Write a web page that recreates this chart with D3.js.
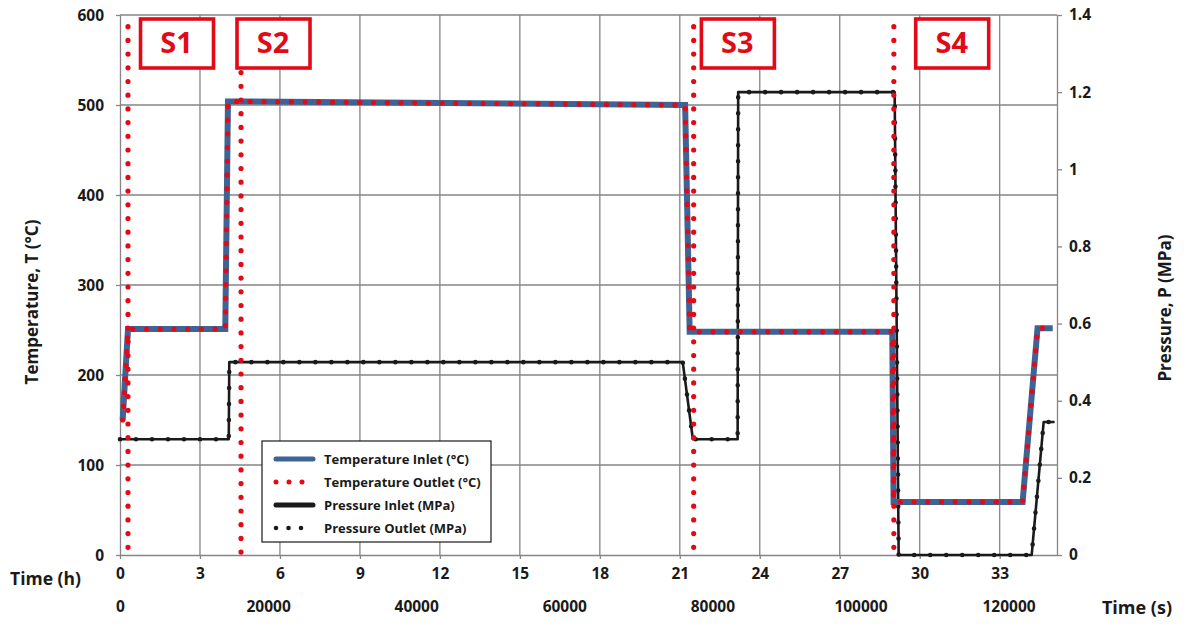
<!DOCTYPE html>
<html lang="en">
<head>
<meta charset="UTF-8">
<title>Temperature and pressure vs time</title>
<style>
  body { margin: 0; background: #fff; }
  svg text { font-family: "Open Sans", Lato, sans-serif; fill: #1a1a1a; }
</style>
</head>
<body>
<script src="https://d3js.org/d3.v7.min.js"></script>
<div id="chart"></div>
<script>
// données (temps en heures)
const tempTime   = [0.1, 0.3, 3.95, 4.05, 21.2, 21.37, 28.97, 29.02, 33.86, 34.42, 34.99];
const tempInlet  = [150, 251, 251, 504, 500, 248, 248, 59, 59, 252, 252];
const tempOutlet = [150, 251, 251, 504, 500, 248, 248, 59, 59, 252, 252];

const presTime   = [0, 4.08, 4.1, 21.11, 21.49, 23.17, 23.19, 29.06, 29.21, 34.2, 34.65, 35.06];
const presInlet  = [0.3, 0.3, 0.5, 0.5, 0.3, 0.3, 1.2, 1.2, 0, 0, 0.345, 0.345];
const presOutlet = [0.3, 0.3, 0.5, 0.5, 0.3, 0.3, 1.2, 1.2, 0, 0, 0.345, 0.345];

// limites des étapes S1..S4
const stageNames = ["S1", "S2", "S3", "S4"];
const stageTime  = [0.3, 4.54, 21.52, 29.03];
const stageTop   = [587, 536, 587, 587];      // °C, haut de la ligne pointillée
const stageLabelAt = [2.12, 5.74, 23.16, 31.2]; // h, centre des étiquettes

const hourTicks = [0, 3, 6, 9, 12, 15, 18, 21, 24, 27, 30, 33];
const secTicks  = [0, 20000, 40000, 60000, 80000, 100000, 120000];
const tempTicks = [0, 100, 200, 300, 400, 500, 600];
const presTicks = [0, 0.2, 0.4, 0.6, 0.8, 1, 1.2, 1.4];

const legendItems = ["Temperature Inlet (°C)", "Temperature Outlet (°C)", "Pressure Inlet (MPa)", "Pressure Outlet (MPa)"];

const W = 1184, H = 624;
const margin = {top: 15, right: 127, bottom: 69, left: 120};
const x0 = margin.left, x1 = W - margin.right, y0 = H - margin.bottom, y1 = margin.top;

const red = "#e30a17", blue = "#3d6494", black = "#1a1a1a", grid = "#858585";

const svg = d3.select("#chart").append("svg")
  .attr("width", W).attr("height", H);

const x = d3.scaleLinear().domain([0, 35.15]).range([x0, x1]);
const xs = d3.scaleLinear().domain([0, 35.15 * 3600]).range([x0, x1]);
const yT = d3.scaleLinear().domain([0, 600]).range([y0, y1]);
const yP = d3.scaleLinear().domain([0, 1.4]).range([y0, y1]);

// grille
const g = svg.append("g").attr("stroke", grid).attr("stroke-width", 1.3);
g.selectAll("line.h").data(tempTicks.slice(1)).join("line")
  .attr("x1", x0).attr("x2", x1).attr("y1", d => yT(d)).attr("y2", d => yT(d));
g.selectAll("line.v").data(hourTicks.slice(1)).join("line")
  .attr("x1", d => x(d)).attr("x2", d => x(d)).attr("y1", y0).attr("y2", y1);

function styleAxis(sel) {
  sel.selectAll("path, line").attr("stroke", grid).attr("stroke-width", 1.3);
  sel.selectAll("text").attr("font-size", 15.5).attr("font-weight", "bold").attr("fill", "#1a1a1a");
}

svg.append("g").attr("transform", `translate(${x0},0)`)
  .call(d3.axisLeft(yT).tickValues(tempTicks).tickSize(4).tickPadding(12).tickSizeOuter(0))
  .call(styleAxis).selectAll("text").attr("dy", "0.36em");

svg.append("g").attr("transform", `translate(${x1},0)`)
  .call(d3.axisRight(yP).tickValues(presTicks).tickSize(5).tickPadding(7).tickSizeOuter(0)
    .tickFormat(d => String(+d.toFixed(1))))
  .call(styleAxis);

svg.append("g").attr("transform", `translate(0,${y0})`)
  .call(d3.axisBottom(x).tickValues(hourTicks).tickSize(4).tickPadding(9).tickSizeOuter(0))
  .call(styleAxis);

svg.append("g").attr("transform", `translate(0,${y0})`)
  .call(d3.axisBottom(xs).tickValues(secTicks).tickSize(0).tickPadding(46).tickFormat(d3.format("d")))
  .call(styleAxis)
  .call(s => s.select(".domain").remove());

// séries
const lineT = d3.line().x((d, i) => x(tempTime[i])).y(d => yT(d));
const lineP = d3.line().x((d, i) => x(presTime[i])).y(d => yP(d));

svg.append("path").attr("d", lineP(presInlet))
  .attr("fill", "none").attr("stroke", black).attr("stroke-width", 2.6).attr("stroke-linejoin", "round");
svg.append("path").attr("d", lineP(presOutlet))
  .attr("fill", "none").attr("stroke", black).attr("stroke-width", 4.6)
  .attr("stroke-linecap", "round").attr("stroke-dasharray", "0 16");

svg.append("path").attr("d", lineT(tempInlet))
  .attr("fill", "none").attr("stroke", blue).attr("stroke-width", 6).attr("stroke-linejoin", "miter");
svg.append("path").attr("d", lineT(tempOutlet))
  .attr("fill", "none").attr("stroke", red).attr("stroke-width", 5.2)
  .attr("stroke-linecap", "round").attr("stroke-dasharray", "0 13.7");

// lignes des étapes
svg.append("g").selectAll("line").data(stageTime).join("line")
  .attr("x1", d => x(d)).attr("x2", d => x(d))
  .attr("y1", (d, i) => yT(stageTop[i])).attr("y2", yT(2))
  .attr("stroke", red).attr("stroke-width", 5.2)
  .attr("stroke-linecap", "round").attr("stroke-dasharray", "0 13.7");

const lab = svg.append("g").selectAll("g").data(stageNames).join("g")
  .attr("transform", (d, i) => `translate(${x(stageLabelAt[i])},${y1 + 28})`);
lab.append("rect").attr("x", -36).attr("y", -24).attr("width", 73).attr("height", 49)
  .attr("fill", "#fff").attr("stroke", red).attr("stroke-width", 3.6);
lab.append("text").text(d => d).attr("text-anchor", "middle").attr("dy", "0.36em")
  .attr("font-size", 29).attr("font-weight", "bold").style("fill", red);

// légende
const leg = svg.append("g").attr("transform", "translate(262,441)");
leg.append("rect").attr("width", 229).attr("height", 101)
  .attr("fill", "#fff").attr("stroke", black).attr("stroke-width", 1.2);
const legStyles = [
  {c: blue, w: 5, dash: null},
  {c: red, w: 5, dash: "0 13"},
  {c: black, w: 5, dash: null},
  {c: black, w: 4.6, dash: "0 12.5"}
];
const li = leg.selectAll("g").data(legendItems).join("g")
  .attr("transform", (d, i) => `translate(0,${18 + i * 23})`);
li.append("line").attr("x1", 14).attr("x2", 51)
  .attr("stroke", (d, i) => legStyles[i].c).attr("stroke-width", (d, i) => legStyles[i].w)
  .attr("stroke-linecap", "round").attr("stroke-dasharray", (d, i) => legStyles[i].dash);
li.append("text").text(d => d).attr("x", 62).attr("dy", "0.36em")
  .attr("font-size", 13).attr("font-weight", "bold");

// titres des axes
svg.append("text").text("Temperature, T (°C)")
  .attr("transform", "translate(38,302) rotate(-90)").attr("text-anchor", "middle")
  .attr("font-size", 17).attr("font-weight", "bold");
svg.append("text").text("Pressure, P (MPa)")
  .attr("transform", "translate(1171,308) rotate(-90)").attr("text-anchor", "middle")
  .attr("font-size", 17).attr("font-weight", "bold");
svg.append("text").text("Time (h)").attr("x", 10).attr("y", 585)
  .attr("font-size", 17.5).attr("font-weight", "bold");
svg.append("text").text("Time (s)").attr("x", 1172).attr("y", 614).attr("text-anchor", "end")
  .attr("font-size", 18).attr("font-weight", "bold");
</script>
</body>
</html>
